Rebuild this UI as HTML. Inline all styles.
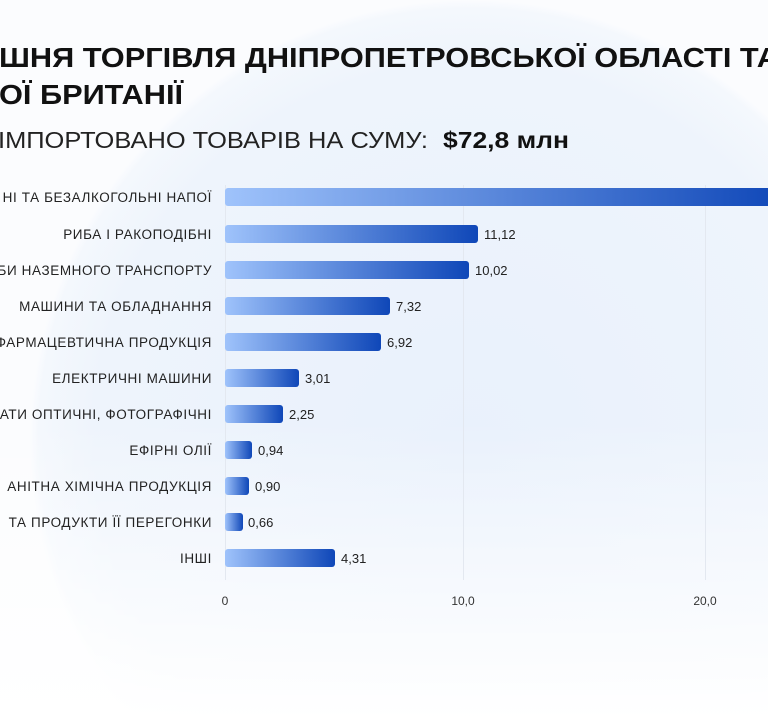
<!DOCTYPE html>
<html><head><meta charset="utf-8"><style>
html,body{margin:0;padding:0;background:#fff;width:768px;height:720px;overflow:hidden;}
svg{display:block;font-family:"Liberation Sans","DejaVu Sans",sans-serif;}
</style></head><body>
<svg width="768" height="720" viewBox="0 0 768 720" xmlns="http://www.w3.org/2000/svg">
<defs>
<radialGradient id="bg" cx="470" cy="440" r="440" gradientUnits="userSpaceOnUse">
<stop offset="0" stop-color="#e9f1fc"/><stop offset="0.85" stop-color="#eef4fc"/><stop offset="0.98" stop-color="#f4f8fd"/><stop offset="1" stop-color="#fbfcfe"/>
</radialGradient>
<linearGradient id="fade" x1="0" y1="0" x2="0" y2="1">
<stop offset="0" stop-color="#fff" stop-opacity="0"/><stop offset="1" stop-color="#fff" stop-opacity="1"/>
</linearGradient>
<linearGradient id="bar" x1="0" y1="0" x2="1" y2="0">
<stop offset="0" stop-color="#9fc3fb"/><stop offset="1" stop-color="#0f47b8"/>
</linearGradient>
</defs>
<rect width="768" height="720" fill="#fbfcfe"/>
<circle cx="470" cy="440" r="440" fill="url(#bg)"/>
<rect x="0" y="420" width="768" height="300" fill="url(#fade)"/>
<g font-weight="bold" fill="#111" font-size="28">
<text x="-1" y="67" textLength="780" lengthAdjust="spacingAndGlyphs">ШНЯ ТОРГІВЛЯ ДНІПРОПЕТРОВСЬКОЇ ОБЛАСТІ ТА</text>
<text x="-1" y="104" textLength="184" lengthAdjust="spacingAndGlyphs">ОЇ БРИТАНІЇ</text>
</g>
<text x="-2" y="148" font-size="23" fill="#222" textLength="430" lengthAdjust="spacingAndGlyphs">ІМПОРТОВАНО ТОВАРІВ НА СУМУ:</text>
<text x="443" y="148" font-size="23" font-weight="bold" fill="#111" textLength="126" lengthAdjust="spacingAndGlyphs">$72,8 млн</text>
<g stroke="#e3e8f0" stroke-width="1">
<line x1="225.5" y1="185" x2="225.5" y2="580"/>
<line x1="463.5" y1="185" x2="463.5" y2="580"/>
<line x1="705.5" y1="185" x2="705.5" y2="580"/>
</g>
<g font-size="13.5" letter-spacing="0.6" fill="#222" text-anchor="end">
<text x="212" y="202">НІ ТА БЕЗАЛКОГОЛЬНІ НАПОЇ</text>
<text x="212" y="239">РИБА І РАКОПОДІБНІ</text>
<text x="212" y="275">БИ НАЗЕМНОГО ТРАНСПОРТУ</text>
<text x="212" y="311">МАШИНИ ТА ОБЛАДНАННЯ</text>
<text x="212" y="347">ФАРМАЦЕВТИЧНА ПРОДУКЦІЯ</text>
<text x="212" y="383">ЕЛЕКТРИЧНІ МАШИНИ</text>
<text x="212" y="419">АТИ ОПТИЧНІ, ФОТОГРАФІЧНІ</text>
<text x="212" y="455">ЕФІРНІ ОЛІЇ</text>
<text x="212" y="491">АНІТНА ХІМІЧНА ПРОДУКЦІЯ</text>
<text x="212" y="527">ТА ПРОДУКТИ ЇЇ ПЕРЕГОНКИ</text>
<text x="212" y="563">ІНШІ</text>
</g>
<g fill="url(#bar)">
<rect x="225" y="188" width="560" height="18" rx="3"/>
<rect x="225" y="225" width="253" height="18" rx="3"/>
<rect x="225" y="261" width="244" height="18" rx="3"/>
<rect x="225" y="297" width="165" height="18" rx="3"/>
<rect x="225" y="333" width="156" height="18" rx="3"/>
<rect x="225" y="369" width="74" height="18" rx="3"/>
<rect x="225" y="405" width="58" height="18" rx="3"/>
<rect x="225" y="441" width="27" height="18" rx="3"/>
<rect x="225" y="477" width="24" height="18" rx="3"/>
<rect x="225" y="513" width="18" height="18" rx="3"/>
<rect x="225" y="549" width="110" height="18" rx="3"/>
</g>
<g font-size="13" fill="#222">
<text x="484" y="239">11,12</text>
<text x="475" y="275">10,02</text>
<text x="396" y="311">7,32</text>
<text x="387" y="347">6,92</text>
<text x="305" y="383">3,01</text>
<text x="289" y="419">2,25</text>
<text x="258" y="455">0,94</text>
<text x="255" y="491">0,90</text>
<text x="248" y="527">0,66</text>
<text x="341" y="563">4,31</text>
</g>
<g font-size="12" fill="#333" text-anchor="middle">
<text x="225" y="605">0</text>
<text x="463" y="605">10,0</text>
<text x="705" y="605">20,0</text>
</g>
</svg>
</body></html>
